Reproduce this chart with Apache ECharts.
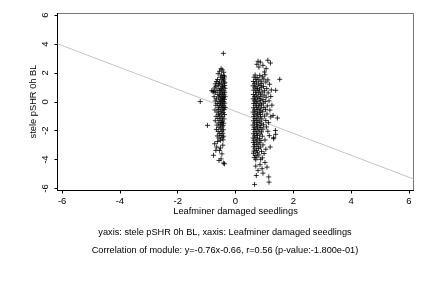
<!DOCTYPE html>
<html>
<head>
<meta charset="utf-8">
<script src="https://cdn.jsdelivr.net/npm/echarts@6/dist/echarts.min.js"></script>
<style>
  html, body { margin: 0; padding: 0; background: #fff; }
  #chart { width: 432px; height: 288px; }
</style>
</head>
<body>
<div id="chart"></div>
<script>
// tick positions on both axes
const xTicks = [-6, -4, -2, 0, 2, 4, 6];
const yTicks = [-6, -4, -2, 0, 2, 4, 6];

// regression from the caption
const slope = -0.76;
const intercept = -0.66;

// left group (around x = -0.5)
const groupLeft = [
  [-0.42, 3.36], [-0.50, 2.30], [-0.46, 2.22], [-0.55, 2.12], [-0.41, 2.05], [-0.60, 1.95],
  [-0.70, 1.25], [-0.82, 0.78], [-0.78, 0.70], [-0.75, 0.74], [-1.22, 0.02], [-0.97, -1.63],
  [-0.68, -3.36], [-0.65, -3.13], [-0.47, -3.60], [-0.76, -3.70], [-0.57, -4.06], [-0.42, -4.24],
  [-0.50, -3.95], [-0.38, -4.29], [-0.55, -3.36], [-0.62, -2.75], [-0.72, -2.90], [-0.44, -3.00],
  [-0.52, -3.20],
  [-0.48, 1.86], [-0.40, 1.82], [-0.52, 1.71], [-0.44, 1.66], [-0.38, 1.73],
  [-0.62, 1.55], [-0.47, 1.52], [-0.40, 1.58], [-0.66, 1.41], [-0.55, 1.37], [-0.42, 1.44], [-0.37, 1.36],
  [-0.58, 1.26], [-0.49, 1.22], [-0.39, 1.28], [-0.68, 1.08], [-0.60, 1.12], [-0.45, 1.06], [-0.38, 1.13],
  [-0.72, 0.96], [-0.53, 0.92], [-0.43, 0.98], [-0.36, 0.94], [-0.64, 0.81], [-0.56, 0.78], [-0.48, 0.84], [-0.40, 0.77],
  [-0.70, 0.64], [-0.51, 0.67], [-0.44, 0.61], [-0.37, 0.66], [-0.61, 0.52], [-0.55, 0.47], [-0.46, 0.53], [-0.39, 0.49],
  [-0.74, 0.36], [-0.58, 0.33], [-0.50, 0.38], [-0.42, 0.31], [-0.36, 0.36], [-0.66, 0.21], [-0.53, 0.18], [-0.45, 0.23], [-0.38, 0.17],
  [-0.70, 0.06], [-0.57, 0.03], [-0.48, 0.08], [-0.41, 0.02], [-0.63, -0.11], [-0.52, -0.08], [-0.44, -0.13], [-0.37, -0.09],
  [-0.68, -0.24], [-0.56, -0.27], [-0.47, -0.22], [-0.40, -0.28], [-0.60, -0.41], [-0.50, -0.38], [-0.43, -0.43], [-0.36, -0.39],
  [-0.71, -0.56], [-0.58, -0.53], [-0.46, -0.58], [-0.39, -0.54], [-0.64, -0.71], [-0.53, -0.68], [-0.42, -0.73],
  [-0.59, -0.86], [-0.49, -0.83], [-0.38, -0.88], [-0.67, -1.01], [-0.55, -0.98], [-0.44, -1.03],
  [-0.61, -1.16], [-0.50, -1.13], [-0.40, -1.18], [-0.70, -1.31], [-0.54, -1.28], [-0.45, -1.33],
  [-0.58, -1.46], [-0.48, -1.43], [-0.41, -1.48], [-0.64, -1.61], [-0.52, -1.58], [-0.43, -1.63],
  [-0.57, -1.76], [-0.46, -1.73], [-0.66, -1.91], [-0.51, -1.88], [-0.42, -1.93],
  [-0.60, -2.06], [-0.47, -2.03], [-0.55, -2.21], [-0.44, -2.18], [-0.63, -2.36], [-0.50, -2.33], [-0.41, -2.38],
  [-0.57, -2.51], [-0.46, -2.48], [-0.52, -2.66], [-0.43, -2.63]
];

// right group (around x = 0.8)
const groupRight = [
  [0.78, 2.81], [1.12, 2.88], [1.21, 2.69], [0.95, 2.53], [0.81, 2.41], [1.06, 2.30], [1.00, 2.07],
  [0.74, 2.60], [0.86, 2.75],
  [1.53, 1.56], [1.39, 0.80], [1.45, -1.12], [1.30, -0.94], [1.39, -2.25], [1.32, -2.48], [1.38, -1.98],
  [1.20, -3.13], [1.32, -2.55],
  [0.66, -5.72], [1.16, -5.56], [1.15, -5.20], [0.95, -4.94], [0.78, -4.75], [0.72, -5.10], [0.92, -4.63],
  [1.09, -4.52], [0.85, -4.35], [0.70, -4.45], [1.02, -4.20],
  [0.68, 1.86], [0.84, 1.83], [1.02, 1.88], [0.64, 1.71], [0.75, 1.68], [0.93, 1.73],
  [0.70, 1.56], [0.81, 1.53], [0.98, 1.58], [1.12, 1.52], [0.62, 1.41], [0.73, 1.38], [0.88, 1.43], [1.05, 1.37],
  [0.66, 1.26], [0.79, 1.23], [0.91, 1.28], [1.18, 1.22], [0.61, 1.11], [0.71, 1.08], [0.85, 1.13], [0.97, 1.07],
  [0.67, 0.96], [0.76, 0.93], [0.89, 0.98], [1.08, 0.92], [0.63, 0.81], [0.74, 0.78], [0.83, 0.83], [1.00, 0.77], [1.24, 0.82],
  [0.69, 0.66], [0.80, 0.63], [0.92, 0.68], [1.13, 0.62], [0.62, 0.51], [0.72, 0.48], [0.86, 0.53], [0.99, 0.47],
  [0.66, 0.36], [0.77, 0.33], [0.88, 0.38], [1.06, 0.32], [1.22, 0.37], [0.61, 0.21], [0.70, 0.18], [0.82, 0.23], [0.95, 0.17],
  [0.65, 0.06], [0.75, 0.03], [0.87, 0.08], [1.03, 0.02], [1.16, 0.07], [0.63, -0.11], [0.72, -0.08], [0.84, -0.13], [0.96, -0.09],
  [0.68, -0.24], [0.79, -0.27], [0.90, -0.22], [1.10, -0.28], [1.26, -0.23], [0.62, -0.41], [0.73, -0.38], [0.85, -0.43], [0.98, -0.39],
  [0.66, -0.56], [0.77, -0.53], [0.88, -0.58], [1.04, -0.54], [1.19, -0.57], [0.61, -0.71], [0.71, -0.68], [0.83, -0.73], [0.94, -0.69],
  [0.65, -0.86], [0.76, -0.83], [0.87, -0.88], [1.09, -0.84], [0.63, -1.01], [0.74, -0.98], [0.86, -1.03], [1.00, -0.99], [1.22, -1.04],
  [0.67, -1.16], [0.78, -1.13], [0.91, -1.18], [0.62, -1.31], [0.72, -1.28], [0.84, -1.33], [1.05, -1.29],
  [0.66, -1.46], [0.77, -1.43], [0.89, -1.48], [1.14, -1.44], [0.61, -1.61], [0.73, -1.58], [0.85, -1.63], [0.97, -1.59],
  [0.65, -1.76], [0.76, -1.73], [0.88, -1.78], [1.07, -1.74], [0.63, -1.91], [0.71, -1.88], [0.82, -1.93], [0.95, -1.89],
  [0.67, -2.06], [0.78, -2.03], [0.90, -2.08], [1.12, -2.04], [0.62, -2.21], [0.73, -2.18], [0.85, -2.23],
  [0.66, -2.36], [0.76, -2.33], [0.93, -2.38], [1.17, -2.34], [0.61, -2.51], [0.71, -2.48], [0.83, -2.53],
  [0.64, -2.66], [0.75, -2.63], [0.88, -2.68], [1.02, -2.64], [0.62, -2.81], [0.72, -2.78], [0.84, -2.83],
  [0.66, -2.96], [0.78, -2.93], [0.95, -2.98], [0.63, -3.11], [0.74, -3.08], [0.86, -3.13],
  [0.67, -3.26], [0.80, -3.23], [1.05, -3.28], [0.64, -3.41], [0.73, -3.38], [0.90, -3.43],
  [0.62, -3.56], [0.76, -3.53], [0.99, -3.58], [0.68, -3.71], [0.81, -3.68],
  [0.65, -3.86], [0.74, -3.83], [0.93, -3.88], [0.70, -4.01], [0.87, -3.98]
];

const xMin = -6.16, xMax = 6.16;
const yMin = -6.14, yMax = 6.12;
const fitLine = [[xMin, slope * xMin + intercept], [xMax, slope * xMax + intercept]];

const font = '"Liberation Sans", Arial, sans-serif';
const plus = 'path://M0,5 L10,5 M5,0 L5,10';

const chart = echarts.init(document.getElementById('chart'));
const option = {
  backgroundColor: '#fff',
  animation: false,
  grid: {
    left: 57.5, right: 18.5, top: 13.5, bottom: 97.5,
    show: true, borderColor: '#777', borderWidth: 1
  },
  xAxis: {
    type: 'value', min: xMin, max: xMax,
    axisLine: { onZero: false, lineStyle: { color: '#000', width: 1 } },
    axisTick: { customValues: xTicks, length: 3, lineStyle: { color: '#000' } },
    axisLabel: { customValues: xTicks, margin: 6, color: '#000', fontSize: 9.5, fontFamily: font },
    splitLine: { show: false }
  },
  yAxis: {
    type: 'value', min: yMin, max: yMax,
    axisLine: { onZero: false, lineStyle: { color: '#000', width: 1 } },
    axisTick: { customValues: yTicks, length: 3, lineStyle: { color: '#000' } },
    axisLabel: { customValues: yTicks, rotate: 90, margin: 7, color: '#000', fontSize: 9.5, fontFamily: font },
    splitLine: { show: false }
  },
  series: [
    {
      type: 'line', data: fitLine, symbol: 'none', silent: true,
      lineStyle: { color: '#c4c4c4', width: 1 }, z: 1
    },
    {
      type: 'scatter', data: groupLeft, symbol: plus, symbolSize: 5,
      itemStyle: { color: 'transparent', borderColor: '#000', borderWidth: 1 }, z: 2
    },
    {
      type: 'scatter', data: groupRight, symbol: plus, symbolSize: 5,
      itemStyle: { color: 'transparent', borderColor: '#000', borderWidth: 1 }, z: 2
    }
  ],
  graphic: [
    {
      type: 'text', x: 235.5, y: 211,
      style: { text: 'Leafminer damaged seedlings', font: '9.3px ' + font, fill: '#000', textAlign: 'center', textVerticalAlign: 'middle' }
    },
    {
      type: 'text', x: 33, y: 101.5, rotation: Math.PI / 2,
      style: { text: 'stele pSHR 0h BL', font: '9.3px ' + font, fill: '#000', textAlign: 'center', textVerticalAlign: 'middle' }
    },
    {
      type: 'text', x: 225, y: 232,
      style: { text: 'yaxis: stele pSHR 0h BL, xaxis: Leafminer damaged seedlings', font: '9.2px ' + font, fill: '#000', textAlign: 'center', textVerticalAlign: 'middle' }
    },
    {
      type: 'text', x: 225, y: 250,
      style: { text: 'Correlation of module: y=-0.76x-0.66, r=0.56 (p-value:-1.800e-01)', font: '9.2px ' + font, fill: '#000', textAlign: 'center', textVerticalAlign: 'middle' }
    }
  ]
};
chart.setOption(option);
</script>
</body>
</html>
